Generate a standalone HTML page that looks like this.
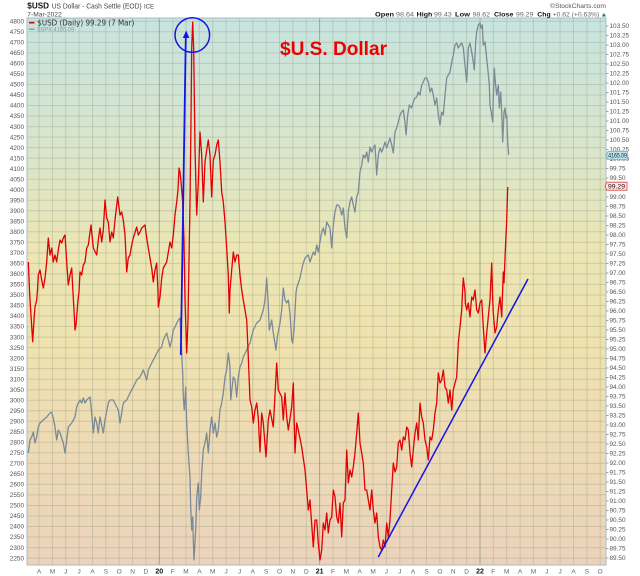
<!DOCTYPE html>
<html><head><meta charset="utf-8"><style>
html,body{margin:0;padding:0;background:#fff;}
svg{display:block;}
text{font-family:"Liberation Sans",Arial,sans-serif;}
.la{font-size:6.4px;fill:#555;text-anchor:end;}
.ra{font-size:6.4px;fill:#555;}
.mo{font-size:6.5px;fill:#666;text-anchor:middle;}
.yr{font-size:7px;fill:#111;font-weight:bold;text-anchor:middle;}
</style></head><body>
<svg width="640" height="576" viewBox="0 0 640 576" xmlns="http://www.w3.org/2000/svg">
<defs>
<linearGradient id="bg" x1="0" y1="18" x2="0" y2="565" gradientUnits="userSpaceOnUse">
<stop offset="0" stop-color="#c6e4df"/>
<stop offset="0.24" stop-color="#d9e5cc"/>
<stop offset="0.42" stop-color="#ebe6b4"/>
<stop offset="0.6" stop-color="#efe2ae"/>
<stop offset="0.79" stop-color="#eedab5"/>
<stop offset="1" stop-color="#ebd3bb"/>
</linearGradient>
</defs>
<rect x="27" y="18" width="579" height="547" fill="url(#bg)"/>
<!-- horizontal grid -->
<path stroke="#9da58e" stroke-opacity="0.4" stroke-width="1" fill="none" d="M27 21.3H606M27 31.8H606M27 42.4H606M27 52.9H606M27 63.4H606M27 73.9H606M27 84.5H606M27 95H606M27 105.5H606M27 116H606M27 126.6H606M27 137.1H606M27 147.6H606M27 158.1H606M27 168.7H606M27 179.2H606M27 189.7H606M27 200.2H606M27 210.8H606M27 221.3H606M27 231.8H606M27 242.3H606M27 252.9H606M27 263.4H606M27 273.9H606M27 284.4H606M27 295H606M27 305.5H606M27 316H606M27 326.5H606M27 337.1H606M27 347.6H606M27 358.1H606M27 368.6H606M27 379.2H606M27 389.7H606M27 400.2H606M27 410.7H606M27 421.3H606M27 431.8H606M27 442.3H606M27 452.8H606M27 463.4H606M27 473.9H606M27 484.4H606M27 494.9H606M27 505.5H606M27 516H606M27 526.5H606M27 537H606M27 547.6H606M27 558.1H606"/>
<!-- vertical grid -->
<path stroke="#9da58e" stroke-opacity="0.4" stroke-width="1" fill="none" d="M39 18V565M52.4 18V565M65.8 18V565M79.1 18V565M92.5 18V565M105.9 18V565M119.2 18V565M132.6 18V565M145.9 18V565M172.7 18V565M186 18V565M199.4 18V565M212.7 18V565M226.1 18V565M239.5 18V565M252.8 18V565M266.2 18V565M279.5 18V565M292.9 18V565M306.3 18V565M333 18V565M346.3 18V565M359.7 18V565M373.1 18V565M386.4 18V565M399.8 18V565M413.1 18V565M426.5 18V565M439.9 18V565M453.2 18V565M466.6 18V565M493.3 18V565M506.7 18V565M520.1 18V565M533.4 18V565M546.8 18V565M560.1 18V565M573.5 18V565M586.9 18V565M600.2 18V565"/>
<path stroke="#8c937e" stroke-opacity="0.75" stroke-width="1" fill="none" d="M159.3 18V565M319.6 18V565M480 18V565"/>
<!-- border -->
<rect x="27" y="18" width="579" height="547" fill="none" stroke="#a9bcc4" stroke-width="1"/>
<!-- left axis labels -->
<g>
<text class="la" x="24" y="23.5">4800</text><text class="la" x="24" y="34">4750</text><text class="la" x="24" y="44.6">4700</text><text class="la" x="24" y="55.1">4650</text><text class="la" x="24" y="65.6">4600</text><text class="la" x="24" y="76.1">4550</text><text class="la" x="24" y="86.7">4500</text><text class="la" x="24" y="97.2">4450</text><text class="la" x="24" y="107.7">4400</text><text class="la" x="24" y="118.2">4350</text><text class="la" x="24" y="128.8">4300</text><text class="la" x="24" y="139.3">4250</text><text class="la" x="24" y="149.8">4200</text><text class="la" x="24" y="160.3">4150</text><text class="la" x="24" y="170.9">4100</text><text class="la" x="24" y="181.4">4050</text><text class="la" x="24" y="191.9">4000</text><text class="la" x="24" y="202.4">3950</text><text class="la" x="24" y="213">3900</text><text class="la" x="24" y="223.5">3850</text><text class="la" x="24" y="234">3800</text><text class="la" x="24" y="244.5">3750</text><text class="la" x="24" y="255.1">3700</text><text class="la" x="24" y="265.6">3650</text><text class="la" x="24" y="276.1">3600</text><text class="la" x="24" y="286.6">3550</text><text class="la" x="24" y="297.2">3500</text><text class="la" x="24" y="307.7">3450</text><text class="la" x="24" y="318.2">3400</text><text class="la" x="24" y="328.7">3350</text><text class="la" x="24" y="339.3">3300</text><text class="la" x="24" y="349.8">3250</text><text class="la" x="24" y="360.3">3200</text><text class="la" x="24" y="370.8">3150</text><text class="la" x="24" y="381.4">3100</text><text class="la" x="24" y="391.9">3050</text><text class="la" x="24" y="402.4">3000</text><text class="la" x="24" y="412.9">2950</text><text class="la" x="24" y="423.5">2900</text><text class="la" x="24" y="434">2850</text><text class="la" x="24" y="444.5">2800</text><text class="la" x="24" y="455">2750</text><text class="la" x="24" y="465.6">2700</text><text class="la" x="24" y="476.1">2650</text><text class="la" x="24" y="486.6">2600</text><text class="la" x="24" y="497.1">2550</text><text class="la" x="24" y="507.7">2500</text><text class="la" x="24" y="518.2">2450</text><text class="la" x="24" y="528.7">2400</text><text class="la" x="24" y="539.2">2350</text><text class="la" x="24" y="549.8">2300</text><text class="la" x="24" y="560.3">2250</text>
</g>
<!-- right axis ticks -->
<path stroke="#889" stroke-width="0.8" fill="none" d="M606 26h2.5M606 35.5h2.5M606 45h2.5M606 54.5h2.5M606 64h2.5M606 73.5h2.5M606 83h2.5M606 92.5h2.5M606 102h2.5M606 111.5h2.5M606 121h2.5M606 130.5h2.5M606 140h2.5M606 149.5h2.5M606 159h2.5M606 168.5h2.5M606 178h2.5M606 187.5h2.5M606 197h2.5M606 206.5h2.5M606 216h2.5M606 225.5h2.5M606 235h2.5M606 244.5h2.5M606 254h2.5M606 263.5h2.5M606 273h2.5M606 282.5h2.5M606 292h2.5M606 301.5h2.5M606 311h2.5M606 320.5h2.5M606 330h2.5M606 339.5h2.5M606 349h2.5M606 358.5h2.5M606 368h2.5M606 377.5h2.5M606 387h2.5M606 396.5h2.5M606 406h2.5M606 415.5h2.5M606 425h2.5M606 434.5h2.5M606 444h2.5M606 453.5h2.5M606 463h2.5M606 472.5h2.5M606 482h2.5M606 491.5h2.5M606 501h2.5M606 510.5h2.5M606 520h2.5M606 529.5h2.5M606 539h2.5M606 548.5h2.5M606 558h2.5"/>
<g>
<text class="ra" x="609.5" y="28.2">103.50</text><text class="ra" x="609.5" y="37.7">103.25</text><text class="ra" x="609.5" y="47.2">103.00</text><text class="ra" x="609.5" y="56.7">102.75</text><text class="ra" x="609.5" y="66.2">102.50</text><text class="ra" x="609.5" y="75.7">102.25</text><text class="ra" x="609.5" y="85.2">102.00</text><text class="ra" x="609.5" y="94.7">101.75</text><text class="ra" x="609.5" y="104.2">101.50</text><text class="ra" x="609.5" y="113.7">101.25</text><text class="ra" x="609.5" y="123.2">101.00</text><text class="ra" x="609.5" y="132.7">100.75</text><text class="ra" x="609.5" y="142.2">100.50</text><text class="ra" x="609.5" y="151.7">100.25</text><text class="ra" x="609.5" y="161.2">100.00</text><text class="ra" x="609.5" y="170.7">99.75</text><text class="ra" x="609.5" y="180.2">99.50</text><text class="ra" x="609.5" y="189.7">99.25</text><text class="ra" x="609.5" y="199.2">99.00</text><text class="ra" x="609.5" y="208.7">98.75</text><text class="ra" x="609.5" y="218.2">98.50</text><text class="ra" x="609.5" y="227.7">98.25</text><text class="ra" x="609.5" y="237.2">98.00</text><text class="ra" x="609.5" y="246.7">97.75</text><text class="ra" x="609.5" y="256.2">97.50</text><text class="ra" x="609.5" y="265.7">97.25</text><text class="ra" x="609.5" y="275.2">97.00</text><text class="ra" x="609.5" y="284.7">96.75</text><text class="ra" x="609.5" y="294.2">96.50</text><text class="ra" x="609.5" y="303.7">96.25</text><text class="ra" x="609.5" y="313.2">96.00</text><text class="ra" x="609.5" y="322.7">95.75</text><text class="ra" x="609.5" y="332.2">95.50</text><text class="ra" x="609.5" y="341.7">95.25</text><text class="ra" x="609.5" y="351.2">95.00</text><text class="ra" x="609.5" y="360.7">94.75</text><text class="ra" x="609.5" y="370.2">94.50</text><text class="ra" x="609.5" y="379.7">94.25</text><text class="ra" x="609.5" y="389.2">94.00</text><text class="ra" x="609.5" y="398.7">93.75</text><text class="ra" x="609.5" y="408.2">93.50</text><text class="ra" x="609.5" y="417.7">93.25</text><text class="ra" x="609.5" y="427.2">93.00</text><text class="ra" x="609.5" y="436.7">92.75</text><text class="ra" x="609.5" y="446.2">92.50</text><text class="ra" x="609.5" y="455.7">92.25</text><text class="ra" x="609.5" y="465.2">92.00</text><text class="ra" x="609.5" y="474.7">91.75</text><text class="ra" x="609.5" y="484.2">91.50</text><text class="ra" x="609.5" y="493.7">91.25</text><text class="ra" x="609.5" y="503.2">91.00</text><text class="ra" x="609.5" y="512.7">90.75</text><text class="ra" x="609.5" y="522.2">90.50</text><text class="ra" x="609.5" y="531.7">90.25</text><text class="ra" x="609.5" y="541.2">90.00</text><text class="ra" x="609.5" y="550.7">89.75</text><text class="ra" x="609.5" y="560.2">89.50</text>
</g>
<!-- month labels -->
<g>
<text class="mo" x="39" y="573.5">A</text><text class="mo" x="52.4" y="573.5">M</text><text class="mo" x="65.8" y="573.5">J</text><text class="mo" x="79.1" y="573.5">J</text><text class="mo" x="92.5" y="573.5">A</text><text class="mo" x="105.9" y="573.5">S</text><text class="mo" x="119.2" y="573.5">O</text><text class="mo" x="132.6" y="573.5">N</text><text class="mo" x="145.9" y="573.5">D</text><text class="yr" x="159.3" y="573.5">20</text><text class="mo" x="172.7" y="573.5">F</text><text class="mo" x="186" y="573.5">M</text><text class="mo" x="199.4" y="573.5">A</text><text class="mo" x="212.7" y="573.5">M</text><text class="mo" x="226.1" y="573.5">J</text><text class="mo" x="239.5" y="573.5">J</text><text class="mo" x="252.8" y="573.5">A</text><text class="mo" x="266.2" y="573.5">S</text><text class="mo" x="279.5" y="573.5">O</text><text class="mo" x="292.9" y="573.5">N</text><text class="mo" x="306.3" y="573.5">D</text><text class="yr" x="319.6" y="573.5">21</text><text class="mo" x="333" y="573.5">F</text><text class="mo" x="346.3" y="573.5">M</text><text class="mo" x="359.7" y="573.5">A</text><text class="mo" x="373.1" y="573.5">M</text><text class="mo" x="386.4" y="573.5">J</text><text class="mo" x="399.8" y="573.5">J</text><text class="mo" x="413.1" y="573.5">A</text><text class="mo" x="426.5" y="573.5">S</text><text class="mo" x="439.9" y="573.5">O</text><text class="mo" x="453.2" y="573.5">N</text><text class="mo" x="466.6" y="573.5">D</text><text class="yr" x="480" y="573.5">22</text><text class="mo" x="493.3" y="573.5">F</text><text class="mo" x="506.7" y="573.5">M</text><text class="mo" x="520.1" y="573.5">A</text><text class="mo" x="533.4" y="573.5">M</text><text class="mo" x="546.8" y="573.5">J</text><text class="mo" x="560.1" y="573.5">J</text><text class="mo" x="573.5" y="573.5">A</text><text class="mo" x="586.9" y="573.5">S</text><text class="mo" x="600.2" y="573.5">O</text>
</g>
<!-- SPX gray -->
<polyline fill="none" stroke="#7b8a97" stroke-width="1.3" stroke-linejoin="round" points="28.3,453 30,440 31.7,437 33.3,432 35,443 36.7,437 38.3,427 40,423 43.3,420 46.7,417 50,413 51.7,412 53.3,418 55,427 56.7,440 58.3,430 60,433 63.3,443 65,453 66.7,440 68.3,427 71.7,423 75,417 76.7,407 78.3,403 80,400 81.7,403 83.3,398 85,403 86.7,400 90,397 91.7,413 93.3,433 95,417 96.7,423 98.3,433 100,417 103.3,433 105,420 108.3,403 110,400 113.3,400 116.7,407 118.3,410 120,423 121.7,413 123.3,403 126.7,400 130,393 133.3,387 136.7,380 140,377 143.3,370 146.7,380 148.3,370 151.7,363 155,357 158.3,350 161.7,347 163.3,340 166.7,333 170,347 171.7,340 173.3,330 175,327 178.3,320 180,318 181.7,353 182.7,373 183.3,397 184.3,410 185.7,387 186.7,423 188.3,453 190,477 190.7,507 191.7,530 192.7,517 193.3,540 194,560 195.7,530 196.7,497 198.3,483 199.3,510 200.7,497 201.7,473 203.3,450 205,443 206.7,433 208.3,453 210,430 211.7,417 213.3,433 215,423 216.7,437 218.3,430 220,410 221.7,403 223.3,393 225,377 226.7,370 228.3,353 230,367 230.7,400 233.3,377 235,380 236.7,397 238.3,377 240,367 241.7,363 243.3,357 246.7,350 250,343 253.3,330 256.7,323 260,320 263.3,310 265,300 266.7,278 268,300 269.3,330 271.7,320 273.3,333 276,350 277.3,337 280,323 281.7,310 283.3,288 285,300 286.7,303 288.3,300 290,313 291.7,340 292.7,343 294,330 296,293 296.7,288 300,278 302.7,265 305,258 308.3,255 310,262 313.3,252 315,255 316.7,245 318.3,252 320,242 321.7,232 323.3,228 325,235 326.7,222 328.3,225 330,228 331.7,248 333.3,225 335,212 336.7,205 338.3,205 340,208 341.7,215 343.3,208 345,228 346.7,238 348.3,212 350,202 351.7,197 353.3,205 355,212 356.7,197 358.3,192 360,172 361.7,165 363.3,155 365,158 366.7,152 368.3,162 370,147 371.7,152 373.3,148 375,145 376.7,175 378.3,155 380,148 381.7,152 383.3,148 385,142 386.7,148 390,138 391.7,145 393.3,153 395,132 396.7,128 398.3,122 400,115 401.7,112 403.3,110 405,122 406,135 407.7,115 409.3,105 411.7,108 413.3,102 415,98 416.7,97 418.3,92 420,95 421.7,85 423.3,82 425,78 426.7,78 428.3,82 430,92 431.7,88 433.3,95 435,105 436.7,98 438.3,115 440,125 441.7,112 443.3,115 445,95 446.7,78 448.3,75 450,72 451.7,62 453.3,55 455,45 456.7,43 458.3,48 460,45 461.7,43 463.3,48 465,65 466.7,82 468.3,48 470,43 471.7,52 473.3,62 474.3,70 475.7,42 476.7,32 478.3,25 480,23 481,28 482.3,25 483.3,45 485,42 486,52 487.7,68 489.3,85 490,105 491.7,115 492.7,122 493.3,98 494.3,68 495.3,82 496.7,95 498.3,85 499.3,108 500.7,92 501.7,112 502.7,142 504,112 505,108 506,118 506.7,115 507.7,142 508.7,155"/>
<!-- USD red -->
<polyline fill="none" stroke="#e20000" stroke-width="1.3" stroke-linejoin="round" points="28.3,262 29.5,290 30,300 32.7,341.7 34,320 35,307 36.7,300 37.5,290 38.3,275 40,270 41.7,280 43.3,288 45,278 46.7,262 48.3,238 50,255 51.7,248 53.3,262 55,255 56.7,262 58.3,250 60,240 61.7,243 63.3,238 65,235 66.7,262 68.3,285 70,275 71.7,268 73,293 74,310 75,330 76,325 78,300 79,292 80,272 81.7,275 83.3,265 85,262 86.7,248 88.3,245 91,225 93.3,248 96.7,255 98.3,240 100,228 101.7,242 103.3,230 105,200 106.7,218 108.3,222 110,242 111.7,232 113.3,238 115,220 117.7,197 120,215 121.7,212 123.3,220 125,235 126.7,272 128.3,258 130,255 131.7,245 133.3,238 136.7,227 138.3,235 140,232 141.7,228 145,225 146.7,238 148.3,248 150,258 151.7,268 153.3,282 155,270 156.7,263 158,292 158.3,307 160,297 161.7,278 163.3,268 166.7,262 170,242 171.7,248 173.3,235 175,215 176.7,202 178,190 179,168 180,172 181,182 182.7,202 184,240 185,300 186.7,353 188,320 189,260 190,202 191,120 191.7,48 192.7,22 193.7,50 195,148 196.7,215 198.3,182 200,132 201.7,155 203.3,202 205,162 206.7,150 208.3,140 210,155 211.7,197 213.3,160 215,155 216.7,145 218.3,140 220,162 221.7,192 223.3,202 225,222 226.7,248 228.3,275 229.3,313 230,290 231.7,270 233.3,252 235,262 236.7,255 238.3,255 240,275 241.7,290 243.3,300 245,310 246.7,320 248.3,357 250,400 251.7,407 253.3,423 255,410 256.7,403 258.3,418 260,452 261.7,413 263.3,423 266,457 268.3,420 270,410 273.3,427 275,395 276.7,363 278.3,390 281.7,397 283.3,420 285,393 286.7,417 288.3,430 291.7,407 293.3,383 295,453 296.7,423 298.3,430 301.7,447 305,470 306.7,490 308.3,510 310,500 313.3,547 315,520 316.7,520 318.3,543 320,560 321.7,550 323.3,523 325,530 326.7,513 328.3,533 330,520 331.7,517 333.3,490 335,497 336.7,517 338.3,523 340,503 341.7,537 343.3,503 345,500 346.7,450 348.3,483 350,470 351.7,477 353.3,467 355,453 356.7,433 358.3,413 360,443 361.7,453 363.3,463 365,490 366.7,490 368.3,500 370,510 371.7,490 373.3,510 375,523 376.7,513 378.3,537 380,547 381.7,550 383.3,540 385,547 386.7,523 388.3,537 390,520 391.7,490 393.3,463 395,472 396.7,467 398.3,443 400,440 401.7,450 403.3,437 405,440 406.7,427 408.3,430 410,453 411.7,467 413.3,450 415,433 416.7,423 418.3,440 420,403 421.7,417 423.3,423 425,440 426.7,447 428.3,460 430,437 431.7,440 433.3,430 435,413 436.7,403 438.3,373 440,383 441.7,380 443.3,370 445,387 446.7,390 448.3,403 450,390 451.7,410 453.3,390 455,383 456.7,377 458.3,343 460,327 461.7,310 462.5,292 463.3,278 465,292 465.3,303 466.7,310 468.3,303 470,317 471.7,297 473.3,300 475,290 476.7,310 478.3,313 480,303 481.7,300 483.3,327 485,353 486.7,333 488.3,317 490,300 491.7,263 492.7,300 493.3,313 495,333 496.7,327 498.3,310 500,297 501.7,317 503.3,272 504,283 505,258 506.7,220 507.7,187"/>
<!-- blue annotations -->
<line x1="378.3" y1="557" x2="528" y2="279" stroke="#1414e6" stroke-width="1.5"/>
<line x1="180.8" y1="355" x2="185.8" y2="37" stroke="#1414e6" stroke-width="1.8"/>
<polygon points="182.8,38 189.3,38 186.2,30.5" fill="#1414e6"/>
<circle cx="192.3" cy="35" r="17.3" fill="none" stroke="#1414e6" stroke-width="1.5"/>
<!-- title annotation -->
<text x="280" y="55" font-size="19" font-weight="bold" fill="#ee0000" textLength="107" lengthAdjust="spacingAndGlyphs">$U.S. Dollar</text>
<!-- legend -->
<line x1="29" y1="22.7" x2="34.5" y2="22.7" stroke="#e20000" stroke-width="1.6"/>
<text x="37.3" y="25.3" font-size="7.5" fill="#333" textLength="97" lengthAdjust="spacingAndGlyphs" style="font-family:'DejaVu Sans',sans-serif">$USD (Daily) 99.29 (7 Mar)</text>
<line x1="29" y1="29.2" x2="34.5" y2="29.2" stroke="#8a98a3" stroke-width="1.4"/>
<text x="37.3" y="31.5" font-size="6.5" fill="#8a98a3" textLength="37" lengthAdjust="spacingAndGlyphs">$SPX 4165.09</text>
<!-- header -->
<text x="27.3" y="8.5" font-size="8.3" font-weight="bold" fill="#111" textLength="21.7" lengthAdjust="spacingAndGlyphs">$USD</text>
<text x="51.7" y="8.5" font-size="7.3" fill="#444" textLength="90" lengthAdjust="spacingAndGlyphs">US Dollar - Cash Settle (EOD)</text>
<text x="144" y="8.5" font-size="6.3" fill="#444" textLength="10" lengthAdjust="spacingAndGlyphs">ICE</text>
<text x="27.3" y="16.6" font-size="6.8" fill="#444" textLength="34.4" lengthAdjust="spacingAndGlyphs">7-Mar-2022</text>
<text x="550" y="8.2" font-size="6.5" fill="#555" textLength="56" lengthAdjust="spacingAndGlyphs">©StockCharts.com</text>
<g font-size="6.8">
<text x="375" y="16.6" font-weight="bold" fill="#111" textLength="19" lengthAdjust="spacingAndGlyphs">Open</text>
<text x="396" y="16.6" fill="#666" textLength="18" lengthAdjust="spacingAndGlyphs">98.64</text>
<text x="416.7" y="16.6" font-weight="bold" fill="#111" textLength="15.6" lengthAdjust="spacingAndGlyphs">High</text>
<text x="434" y="16.6" fill="#666" textLength="17.7" lengthAdjust="spacingAndGlyphs">99.43</text>
<text x="455" y="16.6" font-weight="bold" fill="#111" textLength="15" lengthAdjust="spacingAndGlyphs">Low</text>
<text x="472.7" y="16.6" fill="#666" textLength="17.3" lengthAdjust="spacingAndGlyphs">98.62</text>
<text x="494" y="16.6" font-weight="bold" fill="#111" textLength="19.3" lengthAdjust="spacingAndGlyphs">Close</text>
<text x="516" y="16.6" fill="#666" textLength="17.3" lengthAdjust="spacingAndGlyphs">99.29</text>
<text x="537.3" y="16.6" font-weight="bold" fill="#111" textLength="13.4" lengthAdjust="spacingAndGlyphs">Chg</text>
<text x="552.7" y="16.6" fill="#666" textLength="46.6" lengthAdjust="spacingAndGlyphs">+0.62 (+0.63%)</text>
</g>
<polygon points="601.8,16.5 606,16.5 603.9,13" fill="#1a8a1a"/>
<!-- value tags -->
<path d="M608 151.3 H627.5 V159.3 H608 L606 155.3 Z" fill="#bfe3ea" stroke="#6fb3c6" stroke-width="0.8"/>
<text x="608.3" y="157.7" font-size="6.5" fill="#123" textLength="18.5" lengthAdjust="spacingAndGlyphs">4165.09</text>
<path d="M607 182.2 H627 V190.2 H607 L605 186.2 Z" fill="#fbeaea" stroke="#e04040" stroke-width="0.8"/>
<text x="608" y="188.6" font-size="6.5" fill="#300" textLength="17" lengthAdjust="spacingAndGlyphs">99.29</text>
</svg>
</body></html>
